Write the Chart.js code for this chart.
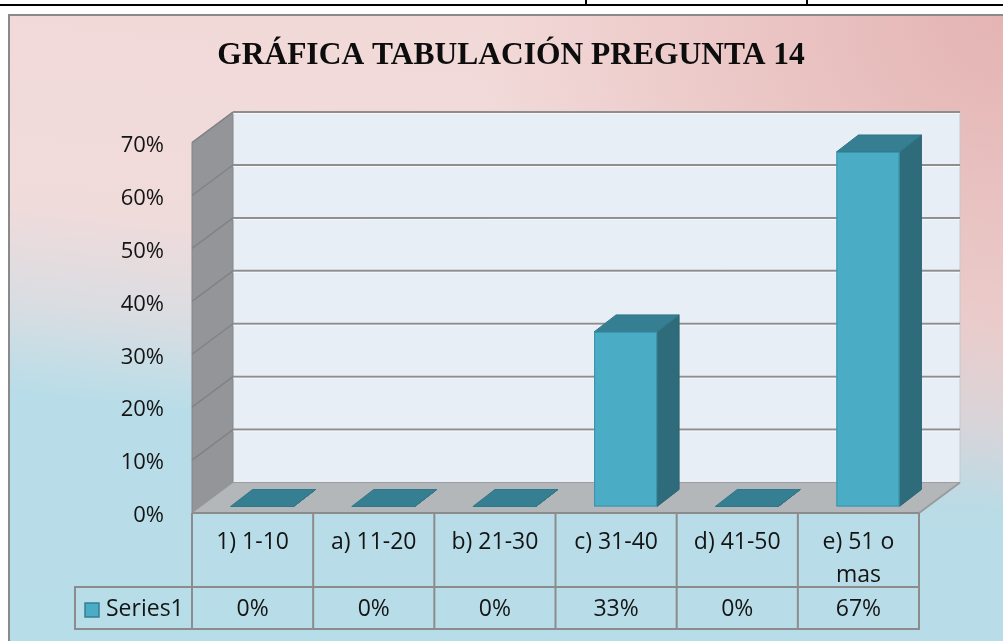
<!DOCTYPE html>
<html>
<head>
<meta charset="utf-8">
<title>Gráfica tabulación pregunta 14</title>
<script src="https://cdn.jsdelivr.net/npm/chart.js@4/dist/chart.umd.min.js"></script>
<style>
	html, body { margin: 0; padding: 0; background: #fff; overflow: hidden; }
	div.page { position: relative; width: 1003px; height: 641px; }
	div.page > canvas { position: absolute; left: 0; top: 0; }
	div.rule { position: absolute; left: 0; top: 4px; width: 1003px; height: 2px; background: #000; }
	div.tick { position: absolute; top: 0; width: 2px; height: 5px; background: #000; }
</style>
</head>
<body>
<div class="page">
	<canvas id="chart" width="1003" height="641"></canvas>
	<div class="rule"></div>
	<div class="tick" style="left: 585px"></div>
	<div class="tick" style="left: 806px"></div>
</div>
<script>
let categories = ['1) 1-10', 'a) 11-20', 'b) 21-30', 'c) 31-40', 'd) 41-50', ['e) 51 o', 'mas']];
let series_name = 'Series1';
let series_values = [0, 0, 0, 33, 0, 67];
let y_ticks = [0, 10, 20, 30, 40, 50, 60, 70];

// oblique projection of the 3d box
let depth = {x: 41, y: -30.5};
let bar_front = {x: 9.5, y: -6.5};
let bar_depth = {x: 22, y: -17};

let text_font = '23px "Open Sans", sans-serif';
let text_color = '#141414';
let line_color = '#8c8c8c';

function fillPolygon(ctx, points, fill, stroke)
{
	ctx.beginPath();
	ctx.moveTo(points[0][0], points[0][1]);
	for(let i = 1; i < points.length; i++)
	{
		ctx.lineTo(points[i][0], points[i][1]);
	}
	ctx.closePath();
	ctx.fillStyle = fill;
	ctx.fill();
	if(stroke)
	{
		ctx.strokeStyle = stroke;
		ctx.lineWidth = 1;
		ctx.stroke();
	}
}

function strokeLine(ctx, x1, y1, x2, y2, color, width)
{
	ctx.beginPath();
	ctx.moveTo(x1, y1);
	ctx.lineTo(x2, y2);
	ctx.strokeStyle = color;
	ctx.lineWidth = width;
	ctx.stroke();
}

function drawBox(ctx, left, right, top, bottom)
{
	let l = left + bar_front.x;
	let r = right + bar_front.x;
	let t = top + bar_front.y;
	let b = bottom + bar_front.y;
	let bx = bar_depth.x;
	let by = bar_depth.y;
	fillPolygon(ctx, [[r, t], [r + bx, t + by], [r + bx, b + by], [r, b]], '#2f6c7b', '#2b6574');
	fillPolygon(ctx, [[l, t], [r, t], [r + bx, t + by], [l + bx, t + by]], '#367f92', '#30778a');
	if(b - t > 0.5)
	{
		ctx.fillStyle = '#4bacc6';
		ctx.fillRect(l, t, r - l, b - t);
		ctx.strokeStyle = '#3a92aa';
		ctx.lineWidth = 1;
		ctx.strokeRect(l + 0.5, t + 0.5, r - l - 1, b - t - 1);
	}
}

let frame_plugin = {
	id: 'frame',
	beforeDraw: function(chart)
	{
		let ctx = chart.ctx;
		ctx.save();
		let gradient = ctx.createLinearGradient(560, 14, 480, 674);
		gradient.addColorStop(0, '#f2d9d8');
		gradient.addColorStop(0.38, '#f0dbdb');
		gradient.addColorStop(0.53, '#d9dde2');
		gradient.addColorStop(0.66, '#b9dde8');
		gradient.addColorStop(1, '#b7dde8');
		ctx.fillStyle = gradient;
		ctx.fillRect(10, 16, chart.width - 10, chart.height - 16);
		let glow = ctx.createRadialGradient(1003, 16, 0, 1003, 16, 520);
		glow.addColorStop(0, 'rgba(216, 150, 148, 0.55)');
		glow.addColorStop(1, 'rgba(216, 150, 148, 0)');
		ctx.fillStyle = glow;
		ctx.fillRect(10, 16, chart.width - 10, chart.height - 16);
		ctx.fillStyle = '#8a8a8a';
		ctx.fillRect(8, 14, chart.width - 8, 2);
		ctx.fillRect(8, 14, 2, chart.height - 14);
		ctx.restore();
	}
};

let walls_plugin = {
	id: 'walls',
	beforeDatasetsDraw: function(chart)
	{
		let ctx = chart.ctx;
		let area = chart.chartArea;
		let y_scale = chart.scales.y;
		let top = y_scale.getPixelForValue(y_ticks[y_ticks.length - 1]);
		let bottom = y_scale.getPixelForValue(0);
		ctx.save();
		// back wall
		ctx.fillStyle = '#e8eef6';
		ctx.fillRect(area.left + depth.x, top + depth.y, area.right - area.left, bottom - top);
		strokeLine(ctx, area.right + depth.x, top + depth.y, area.right + depth.x, bottom + depth.y, '#c4c8cc', 1);
		// side wall
		fillPolygon(ctx, [[area.left, bottom], [area.left, top], [area.left + depth.x, top + depth.y], [area.left + depth.x, bottom + depth.y]], '#939598', '#84868a');
		for(let v of y_ticks)
		{
			if(v === 0)
			{
				continue;
			}
			let y = y_scale.getPixelForValue(v);
			strokeLine(ctx, area.left, y, area.left + depth.x, y + depth.y, '#808286', 1.5);
			strokeLine(ctx, area.left + depth.x, y + depth.y, area.right + depth.x, y + depth.y, '#8e8e8e', 2);
			strokeLine(ctx, area.left + depth.x, y + depth.y + 1.5, area.right + depth.x, y + depth.y + 1.5, 'rgba(255,255,255,0.6)', 1);
		}
		// floor
		fillPolygon(ctx, [[area.left, bottom], [area.right, bottom], [area.right + depth.x, bottom + depth.y], [area.left + depth.x, bottom + depth.y]], '#b4b7ba', '#9c9ea1');
		strokeLine(ctx, area.right, bottom, area.right + depth.x, bottom + depth.y, '#999b9e', 2);
		// columns
		let meta = chart.getDatasetMeta(0);
		for(let bar of meta.data)
		{
			let p = bar.getProps(['x', 'y', 'base', 'width'], true);
			drawBox(ctx, p.x - p.width / 2, p.x + p.width / 2, Math.min(p.y, p.base), Math.max(p.y, p.base));
		}
		ctx.restore();
		return false;
	}
};

let table_plugin = {
	id: 'data_table',
	afterDraw: function(chart)
	{
		let ctx = chart.ctx;
		let area = chart.chartArea;
		let x_scale = chart.scales.x;
		let step = (area.right - area.left) / categories.length;
		let head_top = area.bottom;
		let row_top = head_top + 74;
		let row_bottom = row_top + 42;
		let key_left = 75;
		ctx.save();
		// grid of the table
		strokeLine(ctx, area.left, head_top, area.right, head_top, line_color, 2);
		strokeLine(ctx, key_left, row_top, area.right, row_top, line_color, 2);
		strokeLine(ctx, key_left, row_bottom, area.right, row_bottom, line_color, 2);
		strokeLine(ctx, key_left, row_top - 1, key_left, row_bottom + 1, line_color, 2);
		for(let i = 0; i <= categories.length; i++)
		{
			let x = area.left + i * step;
			strokeLine(ctx, x, head_top, x, row_bottom + 1, line_color, 2);
		}
		// category labels and values
		ctx.font = text_font;
		ctx.fillStyle = text_color;
		ctx.textAlign = 'center';
		ctx.textBaseline = 'middle';
		for(let i = 0; i < categories.length; i++)
		{
			let x = x_scale.getPixelForValue(i);
			let lines = Array.isArray(categories[i]) ? categories[i] : [categories[i]];
			for(let j = 0; j < lines.length; j++)
			{
				ctx.fillText(lines[j], x, head_top + 29 + j * 33);
			}
			ctx.fillText(series_values[i] + '%', x, row_top + 22);
		}
		// legend key
		ctx.fillStyle = '#4bacc6';
		ctx.fillRect(85, row_top + 16, 14, 14);
		ctx.strokeStyle = '#367f92';
		ctx.lineWidth = 1.5;
		ctx.strokeRect(85, row_top + 16, 14, 14);
		ctx.fillStyle = text_color;
		ctx.textAlign = 'left';
		ctx.fillText(series_name, 106, row_top + 22);
		ctx.restore();
	}
};

new Chart(document.getElementById('chart'),
	{
		type: 'bar',
		data:
			{
				labels: categories,
				datasets:
					[
						{
							label: series_name,
							data: series_values,
							backgroundColor: '#4bacc6',
							categoryPercentage: 1,
							barPercentage: 0.52
						}
					]
			},
		options:
			{
				responsive: false,
				animation: false,
				devicePixelRatio: 1,
				layout:
					{
						padding: {left: 103, right: 84, top: 18, bottom: 128}
					},
				plugins:
					{
						legend: {display: false},
						tooltip: {enabled: false},
						title:
							{
								display: true,
								text: 'GRÁFICA TABULACIÓN PREGUNTA 14',
								color: '#0d0d0d',
								font: {family: '"Liberation Serif", "Times New Roman", serif', size: 31.5, weight: 'bold', lineHeight: 1.2},
								padding: {top: 19, bottom: 67.8}
							}
					},
				scales:
					{
						x: {display: false},
						y:
							{
								min: 0,
								max: 70,
								grid: {display: false, drawTicks: false},
								border: {display: false},
								ticks:
									{
										stepSize: 10,
										padding: 28,
										labelOffset: 3,
										color: text_color,
										font: {family: '"Open Sans", sans-serif', size: 22},
										callback: function(value)
											{
												return value + '%';
											}
									},
								afterFit: function(scale)
									{
										scale.width = 89;
									}
							}
					}
			},
		plugins: [frame_plugin, walls_plugin, table_plugin]
	});
</script>
</body>
</html>
